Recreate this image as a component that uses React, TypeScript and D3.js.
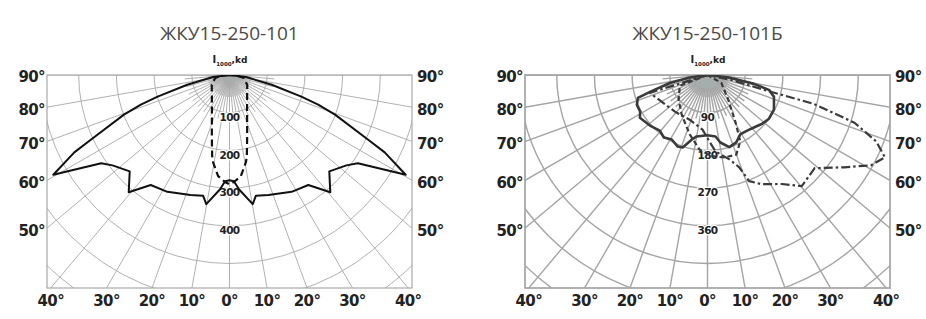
import React from "react";
import * as d3 from "d3";

const W = 926;
const H = 319;

// ---- layout ----
const FRAME_TOP = 75;
const FRAME_H = 213;
const FRAME_W = 365;
const RING_PX = 37.7;

// ---- text / ticks ----
const titles = ["ЖКУ15-250-101", "ЖКУ15-250-101Б"];
const bottomAngles = [-40, -30, -20, -10, 0, 10, 20, 30, 40];
const sideAngles = [50, 60, 70, 80, 90];
const leftRingLabels = [100, 200, 300, 400];
const rightRingLabels = [90, 180, 270, 360];

// ---- left panel (symmetric, half given 0..90°) ----
const lSolidAng = [0, 2.4, 4.7, 10.2, 12.3, 18, 28, 35.6, 40.7, 46, 52.3, 55.5, 60.5, 63.5, 65, 69.4, 71.5, 73.3, 77, 83, 90];
const lSolidCd = [279, 282, 304, 348, 328, 335, 351, 359, 410, 368, 392, 413, 537, 460, 405, 299, 248, 199, 115, 44, 0];
const lDashAng = [0, 2.4, 6.4, 10.6, 12, 16, 32.4, 60.7, 78, 85, 90];
const lDashCd = [290, 284, 270, 236, 221, 170, 87, 54, 39, 20, 0];

// ---- right panel (signed angles, negative = left) ----
const rSolidAng = [-90, -82, -78.1, -73.7, -71.8, -67.1, -61.4, -57.7, -48.7, -40.6, -34.9, -29, -22.6, -18.9, -13.8, -10, 0, 7.4, 10.8, 16.8, 23.1, 28.8, 35.5, 43.3, 48.3, 54.6, 62.4, 71.8, 76.4, 79.2, 83.5, 90];
const rSolidCd = [0, 43, 92, 143, 175, 183, 183, 191, 183, 175, 182, 176, 185, 183, 159, 149, 144, 148, 164, 180, 175, 162, 163, 169, 175, 180, 179, 167, 151, 113, 52, 0];
const rDashDotAng = [-90, -72.8, -41.7, -21.8, -5.2, 1.7, 5.9, 14.5, 19, 21.4, 26.1, 34.3, 40.3, 49, 56, 61.1, 65.1, 68.5, 72, 74.8, 75.3, 78.2, 90];
const rDashDotCd = [0, 144, 117, 115, 131, 159, 183, 208, 233, 272, 290, 315, 348, 339, 394, 446, 467, 433, 369, 263, 140, 58, 0];
const rDashAng = [-90, -68.6, -49.2, -33, -16.7, -6.1, 2.8, 11.6, 19.9, 26.2, 30.8, 40, 60.3, 90];
const rDashCd = [0, 71, 91, 113, 148, 179, 194, 201, 202, 177, 130, 77, 38, 0];

type Pt = [number, number];
const zip = (a: number[], b: number[]): Pt[] => a.map((v, i) => [v, b[i]]);
const mirror = (a: number[], b: number[]): Pt[] => {
  const half = zip(a, b);
  const left = half.slice(1).reverse().map(([d, v]) => [-d, v] as Pt);
  return [...left, ...half];
};

type Curve = { pts: Pt[]; color: string; width: number; dash?: string };

const labelFont = "'DejaVu Sans', Verdana, sans-serif";

function Panel({
  id,
  x0,
  title,
  titleSize,
  step,
  ringLabels,
  curves,
  gridW,
  gridColor,
  fanR,
}: {
  id: string;
  x0: number;
  title: string;
  titleSize: number;
  step: number;
  ringLabels: number[];
  curves: Curve[];
  gridW: number;
  gridColor: string;
  fanR: number;
}) {
  const cx = x0 + FRAME_W / 2;
  const cy = FRAME_TOP;
  const r = d3.scaleLinear().domain([0, step]).range([0, RING_PX]);
  const toA = (deg: number) => Math.PI - (deg * Math.PI) / 180;
  const line = d3
    .lineRadial<Pt>()
    .angle((d) => toA(d[0]))
    .radius((d) => r(d[1]))
    .curve(d3.curveLinear);

  const pol = (deg: number, rad: number) => [
    cx + rad * Math.sin((deg * Math.PI) / 180),
    cy + rad * Math.cos((deg * Math.PI) / 180),
  ];

  const rings = d3.range(1, 9).map((k) => k * step);
  const major = d3.range(-90, 91, 10);
  const minor = d3.range(-85, 86, 10);
  const fine = d3.range(-87.5, 88, 5);

  return (
    <g>
      <defs>
        <clipPath id={`clip-${id}`}>
          <rect x={x0} y={FRAME_TOP} width={FRAME_W} height={FRAME_H} />
        </clipPath>
      </defs>
      <text
        x={cx}
        y={40}
        textAnchor="middle"
        fontFamily="'Open Sans', sans-serif"
        fontSize={titleSize}
        fill="#4a4a4a"
      >
        {title}
      </text>
      <text x={cx - 17} y={63} fontFamily={labelFont} fontWeight="bold" fill="#222">
        <tspan fontSize={10}>I</tspan>
        <tspan fontSize={5.5} dy={3}>1000</tspan>
        <tspan fontSize={9} dy={-3}>,kd</tspan>
      </text>
      <g clipPath={`url(#clip-${id})`} fill="none" stroke={gridColor} strokeWidth={gridW}>
        {rings.map((v) => (
          <circle key={v} cx={cx} cy={cy} r={r(v)} />
        ))}
        {major.map((d) => {
          const [x2, y2] = pol(d, 400);
          return <line key={d} x1={cx} y1={cy} x2={x2} y2={y2} />;
        })}
        {minor.map((d) => {
          const [x2, y2] = pol(d, 45);
          return <line key={d} x1={cx} y1={cy} x2={x2} y2={y2} />;
        })}
        {fine.map((d) => {
          const [x2, y2] = pol(d, 22);
          return <line key={d} x1={cx} y1={cy} x2={x2} y2={y2} strokeWidth={0.7} />;
        })}
        <path
          d={d3.arc()({ innerRadius: 0, outerRadius: fanR, startAngle: Math.PI / 2, endAngle: (3 * Math.PI) / 2 }) || ""}
          transform={`translate(${cx},${cy})`}
          fill="#a6adad"
          stroke="none"
        />
      </g>
      <rect x={x0} y={FRAME_TOP} width={FRAME_W} height={FRAME_H} fill="none" stroke={gridColor} strokeWidth={gridW + 0.3} />
      {ringLabels.map((v, i) => (
        <text
          key={v}
          x={cx}
          y={cy + r((i + 1) * step) + 4.5}
          dy="0.36em"
          textAnchor="middle"
          fontFamily={labelFont}
          fontWeight="bold"
          fontSize={10.5}
          letterSpacing={-0.6}
          fill="#222"
          stroke="#fff"
          strokeWidth={2.5}
          paintOrder="stroke"
        >
          {v}
        </text>
      ))}
      <g clipPath={`url(#clip-${id})`}>
        <g transform={`translate(${cx},${cy})`}>
          {curves.map((c, i) => (
            <path
              key={i}
              d={line(c.pts) || ""}
              fill="none"
              stroke={c.color}
              strokeWidth={c.width}
              strokeDasharray={c.dash}
              strokeLinejoin="round"
            />
          ))}
        </g>
      </g>
      {sideAngles.map((a) => {
        const y = cy + FRAME_W / 2 / Math.tan((a * Math.PI) / 180) + 2;
        return (
          <g key={a} fontFamily={labelFont} fontWeight="bold" fontSize={15} fill="#222" letterSpacing={-0.6}>
            <text x={x0 - 2} y={y} dy="0.36em" textAnchor="end">
              {a}°
            </text>
            <text x={x0 + FRAME_W + 5} y={y} dy="0.36em" textAnchor="start">
              {a}°
            </text>
          </g>
        );
      })}
      {bottomAngles.map((a) => (
        <text
          key={a}
          x={cx + FRAME_H * Math.tan((a * Math.PI) / 180)}
          y={306}
          textAnchor="middle"
          fontFamily={labelFont}
          fontWeight="bold"
          fontSize={15}
          letterSpacing={-0.6}
          fill="#222"
        >
          {Math.abs(a)}°
        </text>
      ))}
    </g>
  );
}

export default function App() {
  const leftCurves: Curve[] = [
    { pts: mirror(lSolidAng, lSolidCd), color: "#111", width: 2 },
    { pts: mirror(lDashAng, lDashCd), color: "#111", width: 2.2, dash: "7,4" },
  ];
  const rightCurves: Curve[] = [
    { pts: zip(rSolidAng, rSolidCd), color: "#3a3a3a", width: 2.6 },
    { pts: zip(rDashDotAng, rDashDotCd), color: "#3a3a3a", width: 2.2, dash: "9,3,2.5,3" },
    { pts: zip(rDashAng, rDashCd), color: "#3a3a3a", width: 2.2, dash: "5,3" },
  ];
  return (
    <svg width={W} height={H} viewBox={`0 0 ${W} ${H}`} style={{ display: "block", position: "absolute", left: 0, top: 0, background: "#fff" }}>
      <rect width={W} height={H} fill="#fff" />
      <Panel
        id="l"
        x0={47}
        title={titles[0]}
        titleSize={19}
        step={100}
        ringLabels={leftRingLabels}
        curves={leftCurves}
        gridW={0.9}
        gridColor="#a8a8a8"
        fanR={8}
      />
      <Panel
        id="r"
        x0={525}
        title={titles[1]}
        titleSize={19}
        step={90}
        ringLabels={rightRingLabels}
        curves={rightCurves}
        gridW={1.4}
        gridColor="#a4a4a4"
        fanR={14}
      />
    </svg>
  );
}
